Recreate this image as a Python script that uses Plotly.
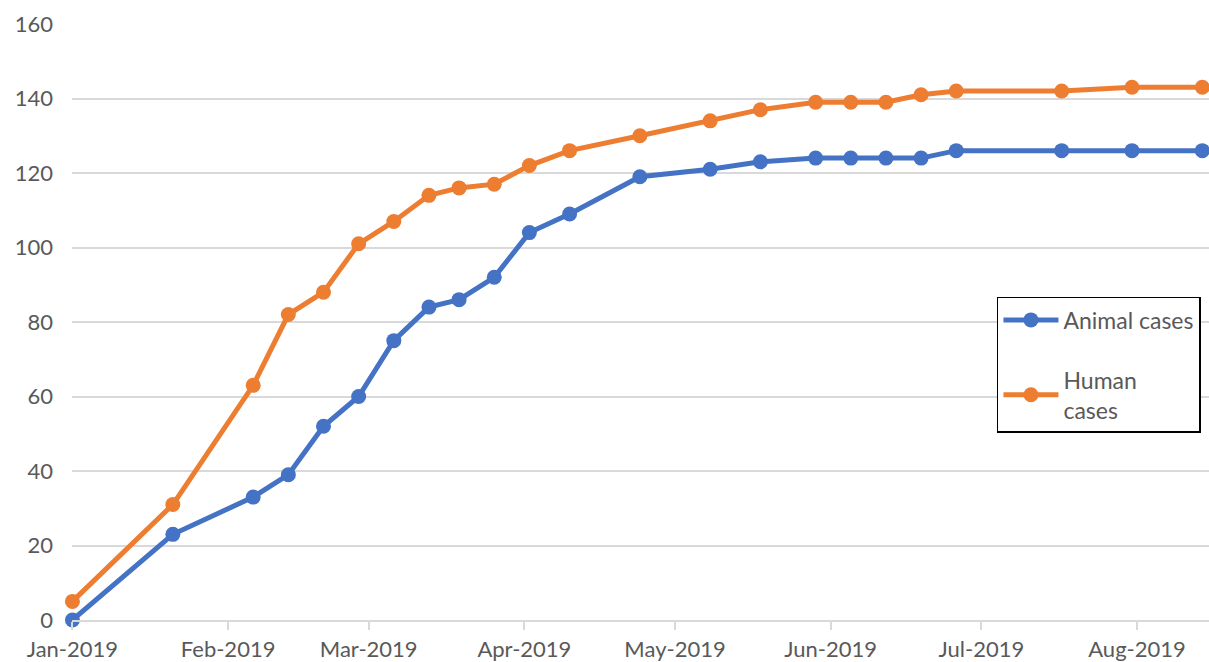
import plotly.graph_objects as go

dates = ["2019-01-01", "2019-01-21", "2019-02-06", "2019-02-13", "2019-02-20", "2019-02-27",
         "2019-03-06", "2019-03-13", "2019-03-19", "2019-03-26", "2019-04-02", "2019-04-10",
         "2019-04-24", "2019-05-08", "2019-05-18", "2019-05-29", "2019-06-05", "2019-06-12",
         "2019-06-19", "2019-06-26", "2019-07-17", "2019-07-31", "2019-08-14"]
animal_cases = [0, 23, 33, 39, 52, 60, 75, 84, 86, 92, 104, 109, 119, 121, 123, 124, 124, 124,
                124, 126, 126, 126, 126]
human_cases = [5, 31, 63, 82, 88, 101, 107, 114, 116, 117, 122, 126, 130, 134, 137, 139, 139, 139,
               141, 142, 142, 143, 143]

FONT = "Lato"
GREY = "#595959"
GRID = "#d9d9d9"

fig = go.Figure()
fig.add_trace(go.Scatter(
    x=dates, y=animal_cases, name="Animal cases", mode="lines+markers",
    line=dict(color="#4472C4", width=5), marker=dict(size=15, color="#4472C4"),
    cliponaxis=False, legendgroup="a"))
fig.add_trace(go.Scatter(
    x=dates, y=human_cases, name="Human<br>cases", mode="lines+markers",
    line=dict(color="#ED7D31", width=5), marker=dict(size=15, color="#ED7D31"),
    cliponaxis=False, legendgroup="h"))

fig.update_layout(
    width=1209, height=662,
    margin=dict(l=72, r=0, t=24, b=42),
    paper_bgcolor="white", plot_bgcolor="white",
    font=dict(family=FONT, size=22, color=GREY),
    legend=dict(x=0.8135, y=0.542, xanchor="left", yanchor="top",
                bordercolor="black", borderwidth=1.5, bgcolor="white",
                traceorder="grouped", tracegroupgap=27, itemwidth=55,
                font=dict(family=FONT, size=23, color=GREY)),
    xaxis=dict(type="date", range=["2018-12-31 22:00", "2019-08-15 08:00"],
               tick0="2019-01-01", dtick="M1", tickformat="%b-%Y",
               showgrid=False, zeroline=False, automargin=False,
               showline=True, linecolor=GRID, linewidth=1.5,
               ticks="outside", ticklen=8, tickcolor=GRID, tickwidth=1.5,
               ticklabelstandoff=1,
               tickfont=dict(family=FONT, size=22, color=GREY)),
    yaxis=dict(range=[0, 160], dtick=20, showgrid=True, gridcolor=GRID, gridwidth=1.5,
               zeroline=False, showline=False, ticks="", automargin=False,
               ticklabelstandoff=18,
               tickfont=dict(family=FONT, size=22, color=GREY)),
)

fig.write_html("out.html", config={"displayModeBar": False},
               post_script="document.body.style.margin='0';document.body.style.overflow='hidden';")
